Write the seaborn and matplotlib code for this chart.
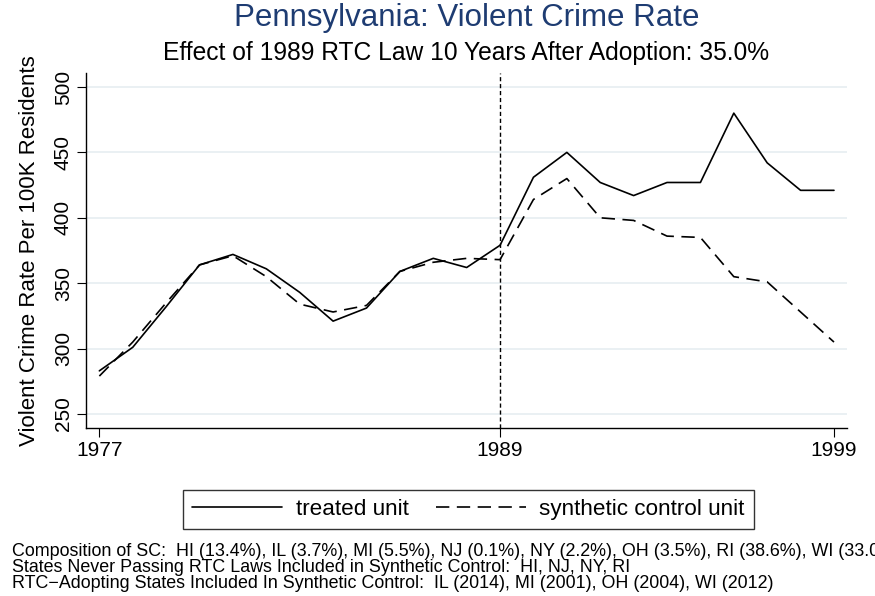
import numpy as np
import pandas as pd
import matplotlib
matplotlib.use('Agg')
import matplotlib.pyplot as plt
import seaborn as sns

# values
years = list(range(1977, 2000))
treated = [283, 301, 332, 364, 372, 361, 343, 321, 331, 359, 369, 362, 379,
           431, 450, 427, 417, 427, 427, 480, 442, 421, 421]
synthetic = [279, 305, 335, 364, 371, 355, 334, 328, 333, 359, 366, 369, 368,
             414, 430, 400, 398, 386, 385, 355, 351, 328, 305]
law_year = 1989
xticks = [1977, 1989, 1999]
yticks = [250, 300, 350, 400, 450, 500]

title = "Pennsylvania: Violent Crime Rate"
subtitle = "Effect of 1989 RTC Law 10 Years After Adoption: 35.0%"
ylabel = "Violent Crime Rate Per 100K Residents"
notes = [
    "Composition of SC:  HI (13.4%), IL (3.7%), MI (5.5%), NJ (0.1%), NY (2.2%), OH (3.5%), RI (38.6%), WI (33.0%)",
    "States Never Passing RTC Laws Included in Synthetic Control:  HI, NJ, NY, RI",
    "RTC\u2212Adopting States Included In Synthetic Control:  IL (2014), MI (2001), OH (2004), WI (2012)",
]

df = pd.DataFrame({
    'year': years * 2,
    'rate': treated + synthetic,
    'unit': ['treated unit'] * len(years) + ['synthetic control unit'] * len(years),
})

sns.set_style('white')
plt.rcParams['font.family'] = ['Liberation Sans', 'DejaVu Sans']
plt.rcParams['text.color'] = 'black'
plt.rcParams['axes.labelcolor'] = 'black'
plt.rcParams['xtick.color'] = 'black'
plt.rcParams['ytick.color'] = 'black'

W, H = 875, 596
fig = plt.figure(figsize=(W / 100, H / 100), dpi=100)
ax = fig.add_axes([86 / W, 1 - 428 / H, (847 - 86) / W, (428 - 73) / H])

sns.lineplot(data=df, x='year', y='rate', style='unit',
             dashes={'treated unit': '', 'synthetic control unit': (8, 4.5)},
             color='black', linewidth=1.2, ax=ax, legend=False)

ax.axvline(law_year, color='black', lw=1.0, linestyle=(0, (3, 2)))

ax.set_xlim(1976.6, 1999.39)
ax.set_ylim(239.3, 510.7)
ax.set_xticks(xticks)
ax.set_yticks(yticks)
ax.grid(axis='y', color='#e6eef1', lw=1.2)
ax.grid(axis='x', visible=False)
ax.set_axisbelow(True)
for s in ['top', 'right']:
    ax.spines[s].set_visible(False)
for s in ['left', 'bottom']:
    ax.spines[s].set_color('black')
    ax.spines[s].set_linewidth(1.0)
ax.tick_params(axis='both', which='major', length=6.5, width=0.8,
               labelsize=15, bottom=True, left=True, pad=3)
plt.setp(ax.get_yticklabels(), rotation=90, va='center')
ax.set_xlabel('')
ax.set_ylabel(ylabel, fontsize=16, labelpad=10)

fig.text(466.5 / W, 1 - 18 / H, title, ha='center', va='center',
         fontsize=22.5, color='#1e3c72')
fig.text(466.5 / W, 1 - 53 / H, subtitle, ha='center', va='center', fontsize=17.7)

handles = ax.get_lines()[:2]
leg = fig.legend(handles, ['treated unit', 'synthetic control unit'],
                 loc='center', bbox_to_anchor=(468.5 / W, 1 - 509.5 / H),
                 ncol=2, fontsize=16.2, frameon=True, fancybox=False,
                 edgecolor='black', handlelength=4, handletextpad=0.6,
                 columnspacing=1.2, borderpad=0.4)
leg.get_frame().set_linewidth(1.0)

for i, t in enumerate(notes):
    fig.text(12 / W, 1 - (551 + 16 * i) / H, t, ha='left', va='center', fontsize=12.9)

fig.savefig('out.png', dpi=100)
